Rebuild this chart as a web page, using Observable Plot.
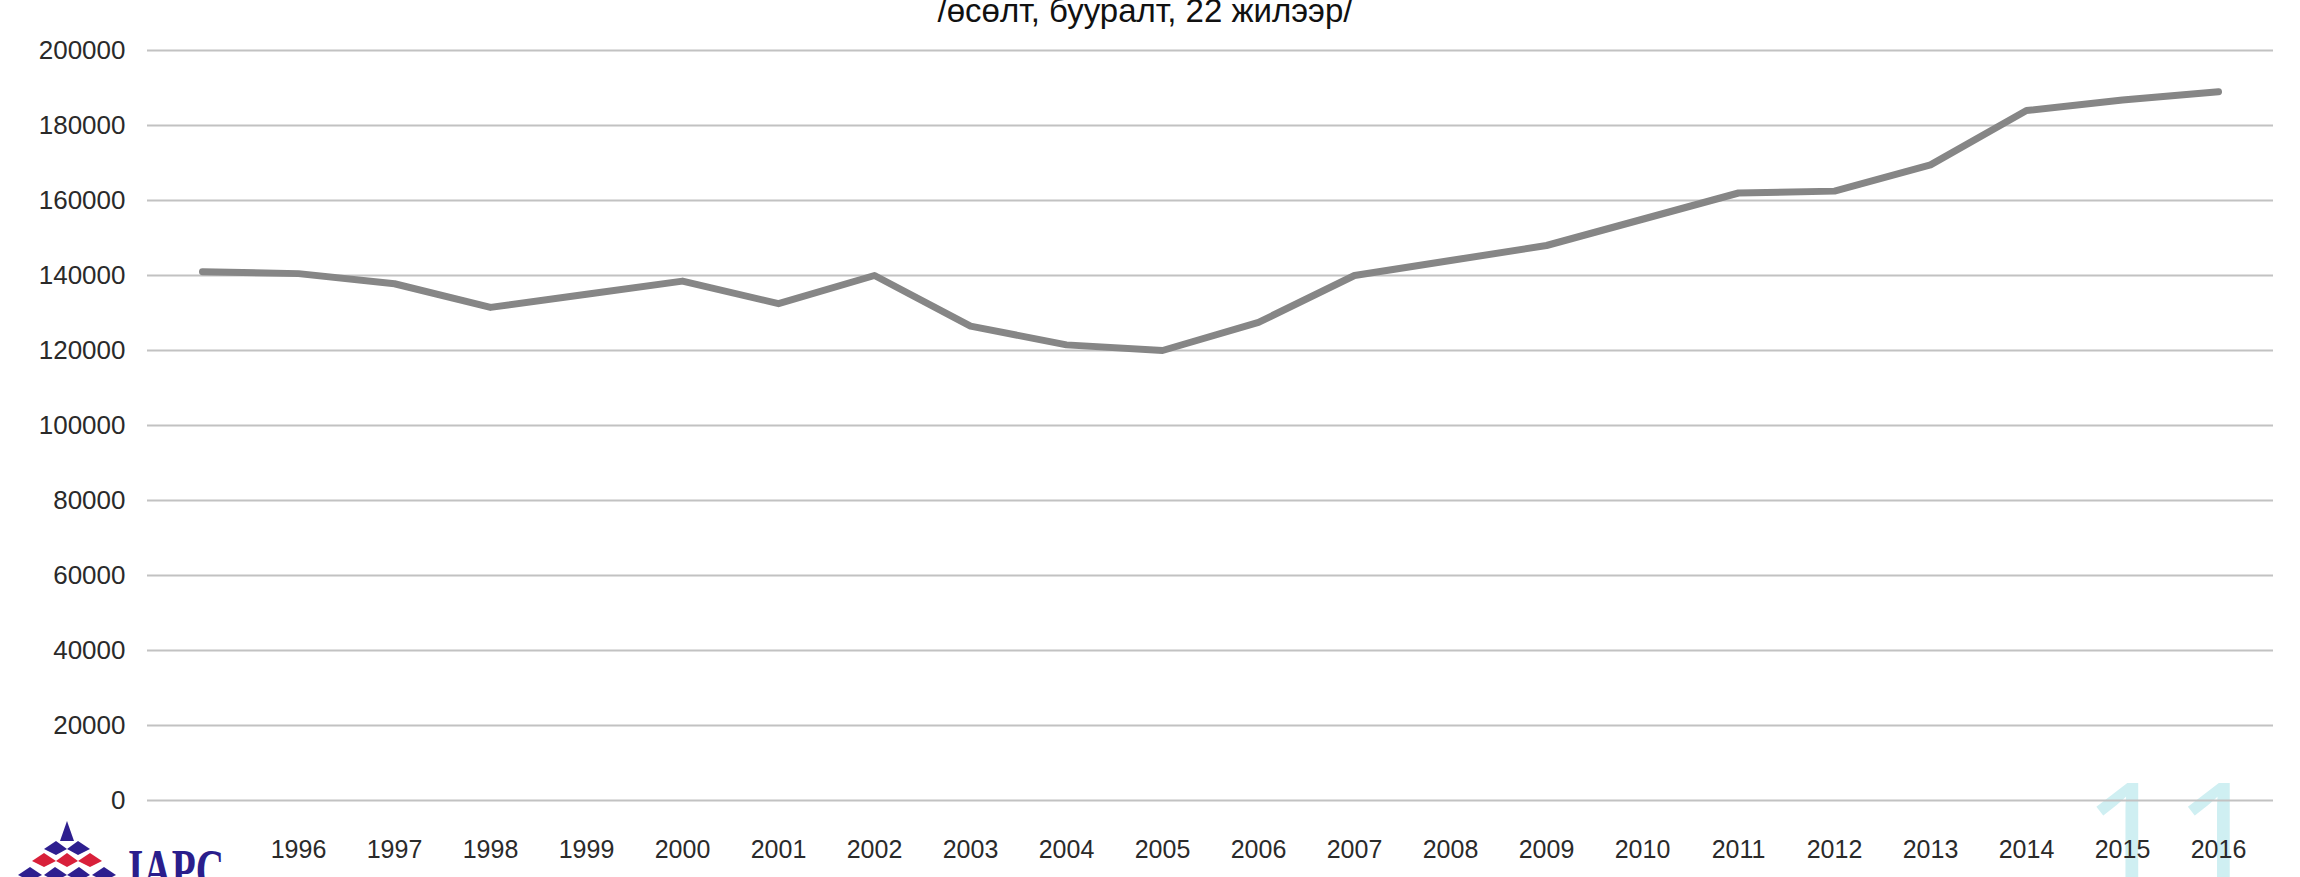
<!DOCTYPE html>
<html>
<head>
<meta charset="utf-8">
<script src="https://cdn.jsdelivr.net/npm/d3@7"></script>
<script src="https://cdn.jsdelivr.net/npm/@observablehq/plot@0.6"></script>
<style>
html, body { margin: 0; padding: 0; background: #fff; width: 2300px; height: 877px; overflow: hidden; position: relative; }
#title { height: 32px; font: 33px "Liberation Sans", Arial, sans-serif; color: #111; text-align: center; line-height: 30px; margin-left: -10px; margin-top: -4px; overflow: visible; }
#chart { position: relative; z-index: 1; margin-top: 4px; }
#pagenum { position: absolute; left: 2082px; top: 755px; font: 500 160px "Open Sans", sans-serif; color: #cfeff2; z-index: 0; line-height: 1; }
#logo { position: absolute; left: 0; top: 815px; z-index: 2; }
</style>
</head>
<body>
<div id="title">/өсөлт, бууралт, 22 жилээр/</div>
<div id="pagenum">11</div>
<div id="chart"></div>
<svg id="logo" width="240" height="62" viewBox="0 0 240 62">
  <polygon points="67,6 60,26 74,26" fill="#2e1f8f"/>
  <polygon points="44,34 56,26 67,34 56,40" fill="#2e1f8f"/>
  <polygon points="67,34 78,26 90,34 78,40" fill="#2e1f8f"/>
  <polygon points="32,46 44,38 56,46 44,52" fill="#d8203a"/>
  <polygon points="56,46 67,38 78,46 67,52" fill="#d8203a"/>
  <polygon points="78,46 90,38 102,46 90,52" fill="#d8203a"/>
  <polygon points="18,60 30,52 42,60 30,66" fill="#2e1f8f"/>
  <polygon points="44,60 55,52 67,60 55,66" fill="#2e1f8f"/>
  <polygon points="67,60 79,52 90,60 79,66" fill="#2e1f8f"/>
  <polygon points="92,60 104,52 116,60 104,66" fill="#2e1f8f"/>
  <text x="128" y="74" font-family="Liberation Serif, serif" font-weight="bold" font-size="56" fill="#2a1e8c" textLength="96" lengthAdjust="spacingAndGlyphs">IAPC</text>
</svg>
<script>
const years = [1995, 1996, 1997, 1998, 1999, 2000, 2001, 2002, 2003, 2004, 2005,
               2006, 2007, 2008, 2009, 2010, 2011, 2012, 2013, 2014, 2015, 2016];
const values = [141000, 140500, 137800, 131500, 135000, 138500, 132500, 140000, 126500, 121500, 120000,
                127500, 140000, 144000, 148000, 155000, 162000, 162500, 169500, 184000, 186800, 189000];
const yTicks = [0, 20000, 40000, 60000, 80000, 100000, 120000, 140000, 160000, 180000, 200000];
const xTickLabels = [1996, 1997, 1998, 1999, 2000, 2001, 2002, 2003, 2004, 2005, 2006,
                     2007, 2008, 2009, 2010, 2011, 2012, 2013, 2014, 2015, 2016];

const data = years.map((year, i) => ({year, value: values[i]}));

const chart = Plot.plot({
  width: 2300,
  height: 845,
  marginLeft: 147,
  marginRight: 27,
  marginTop: 18,
  marginBottom: 77,
  style: {fontFamily: '"Liberation Sans", Arial, sans-serif', fontSize: "25px", color: "#2a2a2a", background: "transparent"},
  x: {type: "point", domain: years, padding: 0.46, label: null},
  y: {domain: [0, 200000], label: null},
  marks: [
    Plot.gridY(yTicks, {stroke: "#c2c2c2", strokeOpacity: 1, strokeWidth: 2}),
    Plot.axisY(yTicks, {tickSize: 0, tickPadding: 22, tickFormat: d => String(d), fontSize: 26, label: null}),
    Plot.axisX(xTickLabels, {tickSize: 0, tickPadding: 40, tickFormat: d => String(d), fontSize: 25, label: null}),
    Plot.line(data, {x: "year", y: "value", stroke: "#868686", strokeWidth: 7, strokeLinejoin: "round", strokeLinecap: "round"})
  ]
});
document.getElementById("chart").appendChild(chart);
</script>
</body>
</html>
